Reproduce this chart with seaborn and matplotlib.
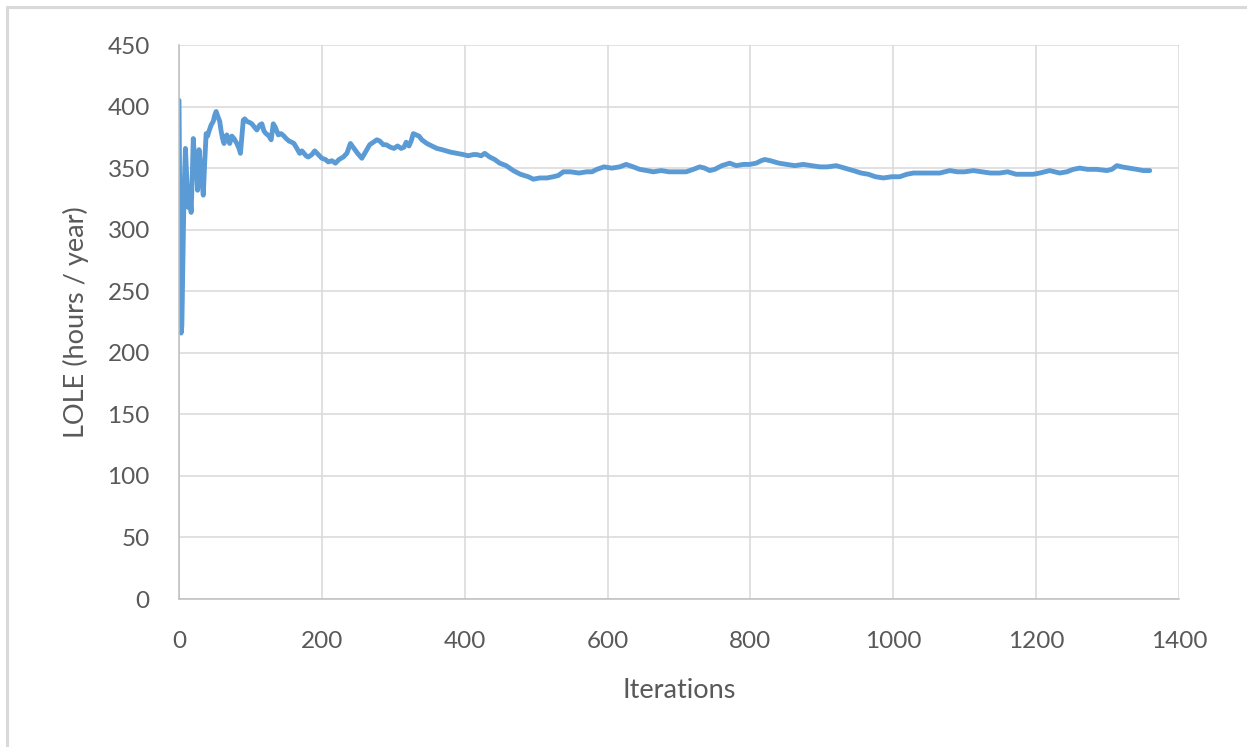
import numpy as np
import pandas as pd
import matplotlib.pyplot as plt
import seaborn as sns
from matplotlib.lines import Line2D

sns.set_style("white")
plt.rcParams['font.family'] = ['Lato', 'DejaVu Sans']

# values, in three stretches
early_iter = [0, 1, 2, 3, 4, 5, 7, 9, 11, 13,
              15, 17, 19, 20, 22, 23, 25, 26, 28, 30,
              32, 34, 36, 38, 40, 42, 45, 48, 50, 52,
              55, 57, 59, 61, 63, 65, 67, 69, 71, 74,
              77, 81, 84, 86, 88, 90, 92, 95, 99, 102,
              106, 109, 113, 116, 119, 122, 126, 129, 132, 135,
              139, 143, 147, 150, 154, 158, 161, 165, 169, 172]
early_lole = [405, 330, 240, 216, 222, 258, 330, 366, 340, 318,
              330, 314, 352, 374, 355, 361, 345, 332, 365, 352,
              340, 328, 355, 378, 376, 380, 385, 388, 393, 396,
              391, 388, 380, 374, 370, 375, 377, 372, 370, 376,
              374, 370, 366, 362, 375, 389, 390, 388, 387, 386,
              383, 381, 385, 386, 380, 378, 376, 373, 386, 383,
              377, 378, 376, 374, 372, 371, 370, 366, 362, 364]

mid_iter = [175, 178, 181, 186, 190, 195, 200, 205, 209, 214,
            219, 224, 230, 235, 240, 245, 250, 256, 261, 267,
            272, 277, 281, 286, 290, 296, 301, 306, 311, 315,
            318, 322, 325, 328, 332, 336, 340, 347, 354, 361,
            368, 374, 380, 389, 398, 405, 412, 417, 423, 428,
            435, 442, 449, 458, 468, 478, 489, 496]
mid_lole = [362, 360, 359, 361, 364, 361, 358, 357, 355, 356,
            354, 357, 359, 362, 370, 366, 362, 358, 363, 369,
            371, 373, 372, 369, 369, 367, 366, 368, 366, 367,
            371, 368, 372, 378, 377, 376, 373, 370, 368, 366,
            365, 364, 363, 362, 361, 360, 361, 361, 360, 362,
            359, 357, 354, 352, 348, 345, 343, 341]

late_iter = [505, 515, 524, 531, 538, 548, 560, 571, 578, 585,
             595, 606, 617, 626, 636, 645, 655, 664, 675, 686,
             697, 710, 720, 729, 736, 743, 750, 760, 771, 780,
             790, 799, 808, 815, 820, 828, 840, 851, 862, 874,
             885, 897, 908, 920, 932, 944, 955, 965, 975, 986,
             998, 1009, 1019, 1028, 1040, 1052, 1065, 1079, 1090, 1100,
             1112, 1124, 1136, 1149, 1160, 1172, 1186, 1196, 1205, 1212,
             1219, 1226, 1233, 1243, 1252, 1261, 1272, 1285, 1299, 1306,
             1313, 1320, 1330, 1341, 1350, 1359]
late_lole = [342, 342, 343, 344, 347, 347, 346, 347, 347, 349,
             351, 350, 351, 353, 351, 349, 348, 347, 348, 347,
             347, 347, 349, 351, 350, 348, 349, 352, 354, 352,
             353, 353, 354, 356, 357, 356, 354, 353, 352, 353,
             352, 351, 351, 352, 350, 348, 346, 345, 343, 342,
             343, 343, 345, 346, 346, 346, 346, 348, 347, 347,
             348, 347, 346, 346, 347, 345, 345, 345, 346, 347,
             348, 347, 346, 347, 349, 350, 349, 349, 348, 349,
             352, 351, 350, 349, 348, 348]

df = pd.DataFrame({'Iterations': early_iter + mid_iter + late_iter,
                   'LOLE': early_lole + mid_lole + late_lole})

fig = plt.figure(figsize=(12.47, 7.47), dpi=100)
ax = fig.add_axes([179/1247, 1-599/747, 1000/1247, 554/747])

sns.lineplot(data=df, x='Iterations', y='LOLE', ax=ax, color='#5B9BD5', linewidth=3.5)

ax.set_xlim(0, 1400)
ax.set_ylim(0, 450)
ax.set_xticks(np.arange(0, 1401, 200))
ax.set_yticks(np.arange(0, 451, 50))
ax.grid(True, color='#D9D9D9', linewidth=1.1)
ax.set_axisbelow(True)
for s in ['top', 'right']:
    ax.spines[s].set_visible(False)
for s in ['left', 'bottom']:
    ax.spines[s].set_color('#BFBFBF')
    ax.spines[s].set_linewidth(1.1)
ax.tick_params(axis='both', length=0, labelsize=17.5, labelcolor='#595959')
ax.tick_params(axis='y', pad=21)
ax.tick_params(axis='x', pad=23)
ax.set_xlabel('Iterations', fontsize=19.5, color='#595959', labelpad=19)
ax.set_ylabel('LOLE (hours / year)', fontsize=19.5, color='#595959', labelpad=13)

# light frame of the chart area (left and top edges visible)
fig.add_artist(Line2D([6.5/1247, 6.5/1247], [0, 1-6.5/747], color='#D9D9D9', linewidth=2.2, transform=fig.transFigure))
fig.add_artist(Line2D([6.5/1247, 1], [1-6.5/747, 1-6.5/747], color='#D9D9D9', linewidth=2.2, transform=fig.transFigure))

fig.savefig('out.png', dpi=100)
